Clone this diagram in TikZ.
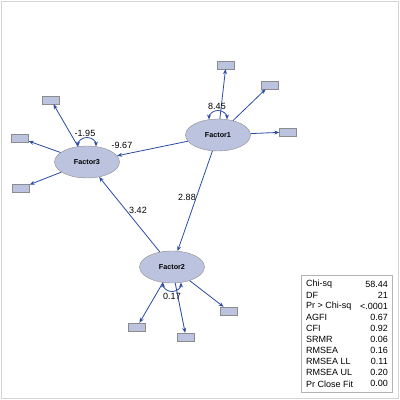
\documentclass[tikz,border=0pt]{standalone}
\usepackage{fontspec}
\setmainfont{Liberation Sans}
\usetikzlibrary{shapes.geometric,arrows.meta}
\definecolor{pathblue}{HTML}{2A4BA6}
\definecolor{latfill}{HTML}{BCC3DE}
\definecolor{latedge}{HTML}{8C8C8C}
\definecolor{framegray}{HTML}{D4D4D4}
\definecolor{boxgray}{HTML}{B4B4B4}

\begin{document}
\begin{tikzpicture}[x=1pt, y=1pt, >={Stealth[length=5pt,width=4pt]},
                    every node/.style={font=\fontsize{9}{10}\selectfont},
                    factor/.style={ellipse, draw=latedge, fill=latfill, inner sep=0pt,
                                   minimum width=65pt, minimum height=32pt,
                                   font=\fontsize{7.2}{8}\selectfont\bfseries},
                    manifest/.style={rectangle, draw=latedge, fill=latfill, inner sep=0pt,
                                     minimum width=17pt, minimum height=8pt},
                    link/.style={pathblue, line width=0.8pt, ->},
                    selfloop/.style={pathblue, line width=0.8pt, <->}]

  %% frame
  \useasboundingbox (0,0) rectangle (400,400);
  \draw[framegray, line width=1pt] (1.5,1.5) rectangle (398.5,398.5);

  %% latent factors
  \node[factor] (F1) at (218,265) {Factor1};
  \node[factor] (F3) at (87,238)  {Factor3};
  \node[factor] (F2) at (172,133) {Factor2};

  %% manifest variables
  \node[manifest] (y11) at (226,335) {};
  \node[manifest] (y12) at (270,315) {};
  \node[manifest] (y13) at (288,268) {};
  \node[manifest] (y31) at (51,300)  {};
  \node[manifest] (y32) at (20,262)  {};
  \node[manifest] (y33) at (21,212)  {};
  \node[manifest] (y21) at (137,73)  {};
  \node[manifest] (y22) at (186,63)  {};
  \node[manifest] (y23) at (229,89)  {};

  %% loadings
  \draw[link] (F1) -- (y11);
  \draw[link] (F1) -- (y12);
  \draw[link] (F1) -- (y13);
  \draw[link] (F3) -- (y31);
  \draw[link] (F3) -- (y32);
  \draw[link] (F3) -- (y33);
  \draw[link] (F2) -- (y21);
  \draw[link] (F2) -- (y22);
  \draw[link] (F2) -- (y23);

  %% paths between factors
  \draw[link] (F1) -- (F3);
  \draw[link] (F1) -- (F2);
  \draw[link] (F2) -- (F3);

  %% variances
  \draw[selfloop] (F1.120) arc[start angle=180, end angle=0, radius=9pt];
  \draw[selfloop] (F3.120) arc[start angle=180, end angle=0, radius=9pt];
  \draw[selfloop] (F2.240) arc[start angle=180, end angle=360, radius=9pt];

  %% estimates
  \node (e11) at (217,294) {8.45};
  \node (e33) at (85,267)  {-1.95};
  \node (e22) at (172,104) {0.17};
  \node (e13) at (122,255) {-9.67};
  \node (e12) at (187,203) {2.88};
  \node (e23) at (138,190) {3.42};

  %% fit statistics
  \node[draw=boxgray, fill=white, inner sep=0pt, minimum width=91pt,
        minimum height=117pt] (fitstats) at (346.5,66.5) {};
  \foreach \lab/\val [count=\k from 0] in {Chi-sq/58.44, DF/21, Pr > Chi-sq/<.0001,
      AGFI/0.67, CFI/0.92, SRMR/0.06, RMSEA/0.16, RMSEA LL/0.11, RMSEA UL/0.20,
      Pr Close Fit/0.00} {
    \node[anchor=west, inner sep=0pt] (s\k) at (306,116-11.1*\k) {\lab};
    \node[anchor=east, inner sep=0pt] (v\k) at (388,116-11.1*\k) {\val};
  }

\end{tikzpicture}
\end{document}
